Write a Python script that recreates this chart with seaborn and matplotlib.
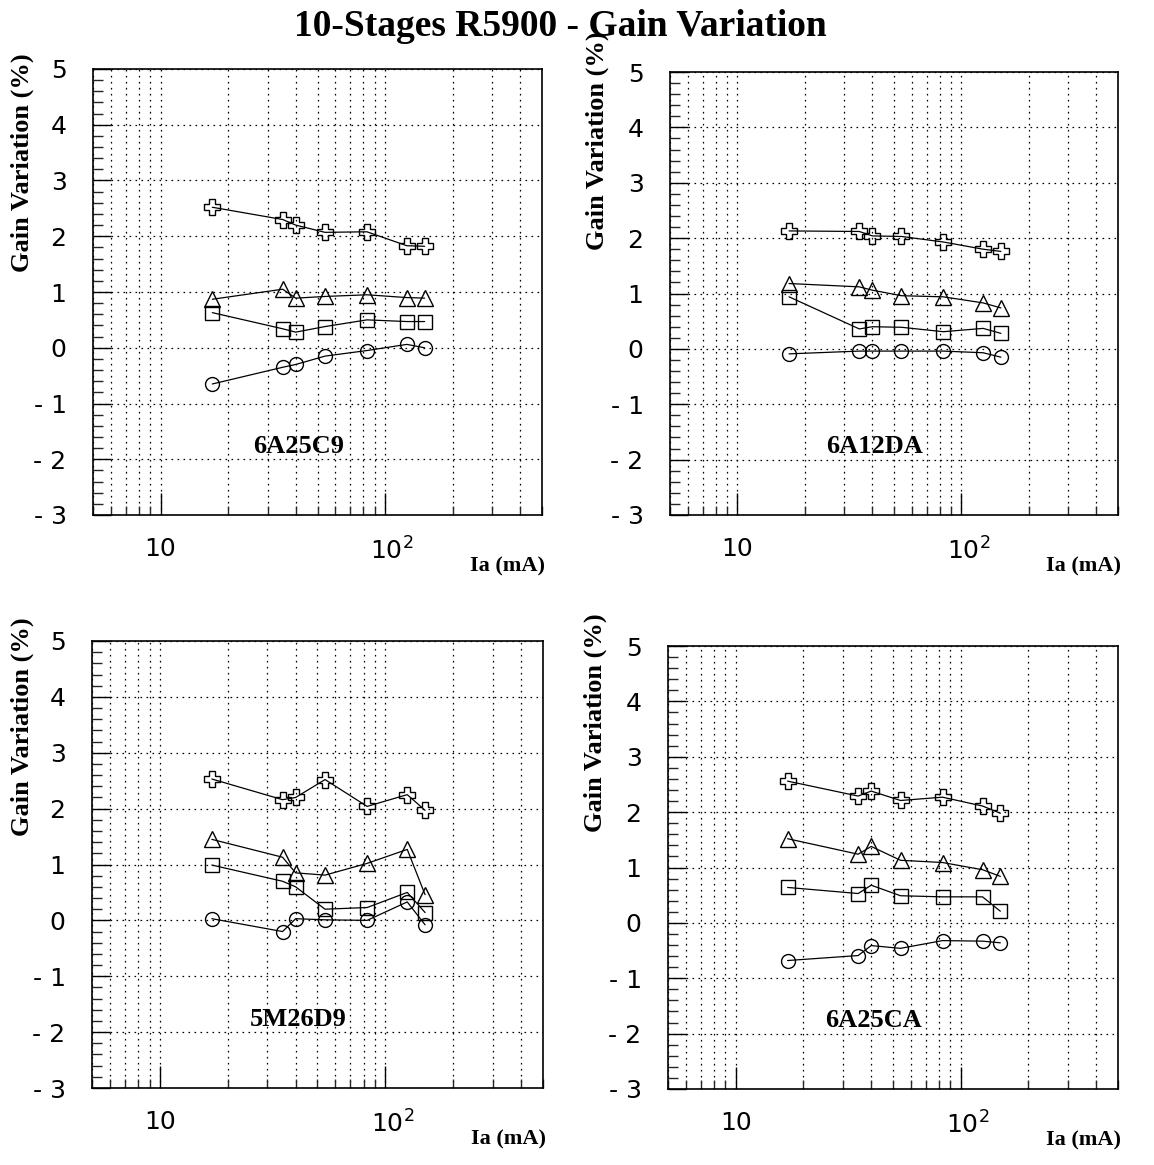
import numpy as np
import pandas as pd
import matplotlib
matplotlib.use("Agg")
import matplotlib.pyplot as plt
import seaborn as sns
from matplotlib.ticker import MultipleLocator, LogLocator, NullFormatter
from matplotlib.transforms import ScaledTranslation

# ---------------- data ----------------
ia_ma = [17, 35, 40, 54, 83, 125, 150]

panel_names = ["6A25C9", "6A12DA", "5M26D9", "6A25CA"]

# 6A25C9
p1_plus = [2.52, 2.30, 2.20, 2.07, 2.08, 1.83, 1.82]
p1_tri = [0.87, 1.05, 0.89, 0.92, 0.95, 0.90, 0.89]
p1_sq = [0.63, 0.34, 0.28, 0.38, 0.50, 0.47, 0.47]
p1_circ = [-0.65, -0.35, -0.30, -0.15, -0.05, 0.06, 0.00]

# 6A12DA
p2_plus = [2.13, 2.12, 2.04, 2.03, 1.93, 1.80, 1.76]
p2_tri = [1.18, 1.12, 1.06, 0.96, 0.94, 0.83, 0.74]
p2_sq = [0.94, 0.36, 0.40, 0.39, 0.31, 0.37, 0.28]
p2_circ = [-0.09, -0.04, -0.04, -0.04, -0.04, -0.07, -0.15]

# 5M26D9
p3_plus = [2.53, 2.16, 2.20, 2.52, 2.04, 2.25, 1.97]
p3_tri = [1.45, 1.13, 0.85, 0.81, 1.02, 1.27, 0.46]
p3_sq = [0.99, 0.70, 0.60, 0.20, 0.23, 0.50, 0.14]
p3_circ = [0.03, -0.20, 0.03, 0.01, 0.00, 0.33, -0.08]

# 6A25CA
p4_plus = [2.56, 2.29, 2.38, 2.21, 2.27, 2.11, 1.98]
p4_tri = [1.52, 1.24, 1.38, 1.13, 1.09, 0.96, 0.84]
p4_sq = [0.64, 0.53, 0.68, 0.49, 0.47, 0.47, 0.21]
p4_circ = [-0.68, -0.59, -0.41, -0.46, -0.32, -0.33, -0.36]

panels = [
    [p1_plus, p1_tri, p1_sq, p1_circ],
    [p2_plus, p2_tri, p2_sq, p2_circ],
    [p3_plus, p3_tri, p3_sq, p3_circ],
    [p4_plus, p4_tri, p4_sq, p4_circ],
]

y_ticks = [-3, -2, -1, 0, 1, 2, 3, 4, 5]
y_tick_labels = ["- 3", "- 2", "- 1", "0", "1", "2", "3", "4", "5"]
x_ticks = [10, 100]
x_tick_labels = ["10", "$10^{2}$"]

title = "10-Stages R5900 - Gain Variation"
ylabel = "Gain Variation (%)"
xlabel = "Ia (mA)"

# --------------- style ----------------
sns.set_theme(style="white")
plt.rcParams["font.family"] = ["DejaVu Sans"]
plt.rcParams["mathtext.default"] = "regular"
plt.rcParams["mathtext.fontset"] = "dejavusans"
SERIF = ["Liberation Serif", "DejaVu Serif"]

W, H = 1154, 1165
fig = plt.figure(figsize=(W / 100, H / 100), dpi=100)
fig.patch.set_facecolor("white")

# axes boxes in pixels: left, right, top, bottom
boxes = [
    (93, 542, 69, 515),
    (670, 1118, 72, 515),
    (92, 543, 641, 1088),
    (668, 1118, 646, 1089),
]
ylabel_bottom = [0.544, 0.598, 0.564, 0.58]
ylabel_x = [-0.158, -0.163, -0.155, -0.162]

markers = ["P", "^", "s", "o"]
msizes = [12, 11.5, 10, 10]

for i, (l, r, t, b) in enumerate(boxes):
    ax = fig.add_axes([l / W, 1 - b / H, (r - l) / W, (b - t) / H])
    ax.set_facecolor("white")
    ax.set_xscale("log")
    for ys, m, ms in zip(panels[i], markers, msizes):
        df = pd.DataFrame({"Ia": ia_ma, "gain": ys})
        sns.lineplot(data=df, x="Ia", y="gain", ax=ax, color="black",
                     linewidth=0.9, marker=m, markersize=ms,
                     markerfacecolor="none", markeredgecolor="black",
                     markeredgewidth=1.0, legend=False, zorder=3)
    ax.set_xlim(5, 500)
    ax.set_ylim(-3, 5)
    ax.set_xlabel("")
    ax.set_ylabel("")

    ax.set_yticks(y_ticks, y_tick_labels)
    ax.yaxis.set_minor_locator(MultipleLocator(0.2))
    ax.set_xticks(x_ticks, x_tick_labels)
    ax.xaxis.set_minor_locator(LogLocator(base=10, subs=np.arange(2, 10)))
    ax.xaxis.set_minor_formatter(NullFormatter())

    ax.tick_params(axis="y", which="major", direction="in", length=13, width=1.0,
                   left=True, right=False, labelsize=18, pad=19, colors="black")
    ax.tick_params(axis="y", which="minor", direction="in", length=7, width=1.0,
                   left=True, right=False)
    ax.tick_params(axis="x", which="major", direction="in", length=16, width=1.0,
                   bottom=True, top=False, labelsize=18, pad=16, colors="black")
    ax.tick_params(axis="x", which="minor", direction="in", length=6.5, width=1.0,
                   bottom=True, top=False)

    ax.grid(True, axis="y", which="major", color="black", linestyle=(0, (1.3, 3.5)),
            linewidth=0.9)
    ax.grid(True, axis="x", which="both", color="black", linestyle=(0, (1.3, 3.5)),
            linewidth=0.9)
    ax.set_axisbelow(True)
    for s in ax.spines.values():
        s.set_visible(True)
        s.set_color("black")
        s.set_linewidth(1.2)

    # shift 10^2 label so that the "10" part is centered on the tick
    for lab in ax.get_xticklabels():
        if "^" in lab.get_text():
            lab.set_transform(lab.get_transform() +
                              ScaledTranslation(5 / 72, 0, fig.dpi_scale_trans))

    ax.text(ylabel_x[i], ylabel_bottom[i], ylabel, rotation=90, ha="center", va="bottom",
            transform=ax.transAxes, family=SERIF, fontweight="bold", fontsize=19,
            color="black")
    ax.text(1.007, -0.093, xlabel, ha="right", va="top", transform=ax.transAxes,
            family=SERIF, fontweight="bold", fontsize=16, color="black")
    ax.text(41, -1.77, panel_names[i], ha="center", va="center", family=SERIF,
            fontweight="bold", fontsize=19, color="black", zorder=4)

fig.text(560 / W, 1 - 26 / H, title, ha="center", va="center", family=SERIF,
         fontweight="bold", fontsize=27, color="black")

fig.savefig("out.png", dpi=100, facecolor="white")
